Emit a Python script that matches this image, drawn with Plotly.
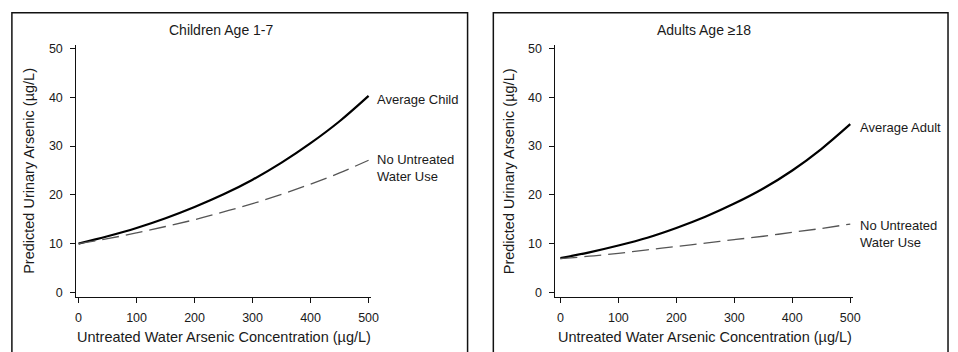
import plotly.graph_objects as go

W, H = 958, 352

# ---- data ----
water_as = [0, 50, 100, 150, 200, 250, 300, 350, 400, 450, 500]
child_avg = [10.0, 11.5, 13.2, 15.2, 17.5, 20.1, 23.1, 26.6, 30.6, 35.1, 40.3]
child_none = [10.0, 11.0, 12.2, 13.5, 14.9, 16.5, 18.2, 20.1, 22.2, 24.5, 27.1]
adult_avg = [7.0, 8.2, 9.6, 11.2, 13.2, 15.5, 18.2, 21.3, 25.0, 29.4, 34.5]
adult_none = [6.9, 7.4, 8.0, 8.7, 9.4, 10.1, 10.8, 11.5, 12.3, 13.1, 14.0]
x_ticks = [0, 100, 200, 300, 400, 500]
y_ticks = [0, 10, 20, 30, 40, 50]
panel_titles = ["Children Age 1-7", "Adults Age ≥18"]
avg_labels = ["Average Child", "Average Adult"]
none_label = "No Untreated<br>Water Use"
x_title = "Untreated Water Arsenic Concentration (µg/L)"
y_title = "Predicted Urinary Arsenic (µg/L)"

FONT = "Liberation Sans, Arial, Helvetica, sans-serif"
TXT = "#1a1a1a"

def px(x):
    return x / W

def py(y):
    return 1 - y / H

fig = go.Figure()

solid = dict(color="#000000", width=2.2, shape="spline", smoothing=1.0)
dashed = dict(color="#555555", width=1.3, dash="17px,7px", shape="spline", smoothing=1.0)

fig.add_trace(go.Scatter(x=water_as, y=child_avg, mode="lines", line=solid,
                         xaxis="x", yaxis="y", showlegend=False, hoverinfo="skip"))
fig.add_trace(go.Scatter(x=water_as, y=child_none, mode="lines", line=dashed,
                         xaxis="x", yaxis="y", showlegend=False, hoverinfo="skip"))
fig.add_trace(go.Scatter(x=water_as, y=adult_avg, mode="lines", line=solid,
                         xaxis="x2", yaxis="y2", showlegend=False, hoverinfo="skip"))
fig.add_trace(go.Scatter(x=water_as, y=adult_none, mode="lines", line=dashed,
                         xaxis="x2", yaxis="y2", showlegend=False, hoverinfo="skip"))

axis_common = dict(showgrid=False, zeroline=False, showline=True, linecolor="#111111",
                   linewidth=1, ticks="outside", ticklen=5, tickwidth=1, tickcolor="#111111",
                   tickfont=dict(family=FONT, size=12.5, color=TXT), fixedrange=True)
xax = dict(ticklabelstandoff=4, **axis_common)
yax = dict(ticklabelstandoff=5, **axis_common)

ydom = [py(299), py(43)]
fig.update_layout(
    width=W, height=H, margin=dict(l=0, r=0, t=0, b=0),
    paper_bgcolor="white", plot_bgcolor="white",
    xaxis=dict(domain=[px(76), px(374)], range=[-3.9, 505], tickvals=x_ticks,
               anchor="y", **xax),
    yaxis=dict(domain=ydom, range=[-0.95, 50.7], tickvals=y_ticks, anchor="x", **yax),
    xaxis2=dict(domain=[px(559.7), px(860.3)], range=[-8.5, 505.1], tickvals=x_ticks,
                anchor="y2", **xax),
    yaxis2=dict(domain=ydom, range=[-0.95, 50.7], tickvals=y_ticks, anchor="x2", **yax),
)

# panel borders (bottom edge runs off the canvas)
for x0, x1 in [(11, 471), (497, 956)]:
    fig.add_shape(type="rect", xref="paper", yref="paper",
                  x0=px(x0), x1=px(x1), y0=-0.1, y1=py(10),
                  line=dict(color="#111111", width=1.5), fillcolor="rgba(0,0,0,0)")

ann = []
# panel titles
for t, cx in zip(panel_titles, [223, 710]):
    ann.append(dict(text=t, x=px(cx), y=py(27), xref="paper", yref="paper",
                    xanchor="center", yanchor="middle", showarrow=False,
                    font=dict(family=FONT, size=14, color=TXT)))
# axis titles
for cx in [225, 711]:
    ann.append(dict(text=x_title, x=px(cx), y=py(340), xref="paper", yref="paper",
                    xanchor="center", yanchor="middle", showarrow=False,
                    font=dict(family=FONT, size=14.5, color=TXT)))
for cx in [28, 513]:
    ann.append(dict(text=y_title, x=px(cx), y=py(171), xref="paper", yref="paper",
                    xanchor="center", yanchor="middle", showarrow=False, textangle=-90,
                    font=dict(family=FONT, size=14.5, color=TXT)))
# line labels
label_pos = [((378, 98), (378, 167.5)), ((864.7, 127), (864.7, 234.5))]
for lab, ((ax_, ay_), (bx, by)) in zip(avg_labels, label_pos):
    ann.append(dict(text=lab, x=px(ax_), y=py(ay_), xref="paper", yref="paper",
                    xanchor="left", yanchor="middle", showarrow=False, align="left",
                    font=dict(family=FONT, size=13, color=TXT)))
    ann.append(dict(text=none_label, x=px(bx), y=py(by), xref="paper", yref="paper",
                    xanchor="left", yanchor="middle", showarrow=False, align="left",
                    font=dict(family=FONT, size=13, color=TXT)))
fig.update_layout(annotations=ann)

fig.write_html("out.html", config={"displayModeBar": False},
               post_script="document.body.style.margin='0px';document.body.style.overflow='hidden';")
